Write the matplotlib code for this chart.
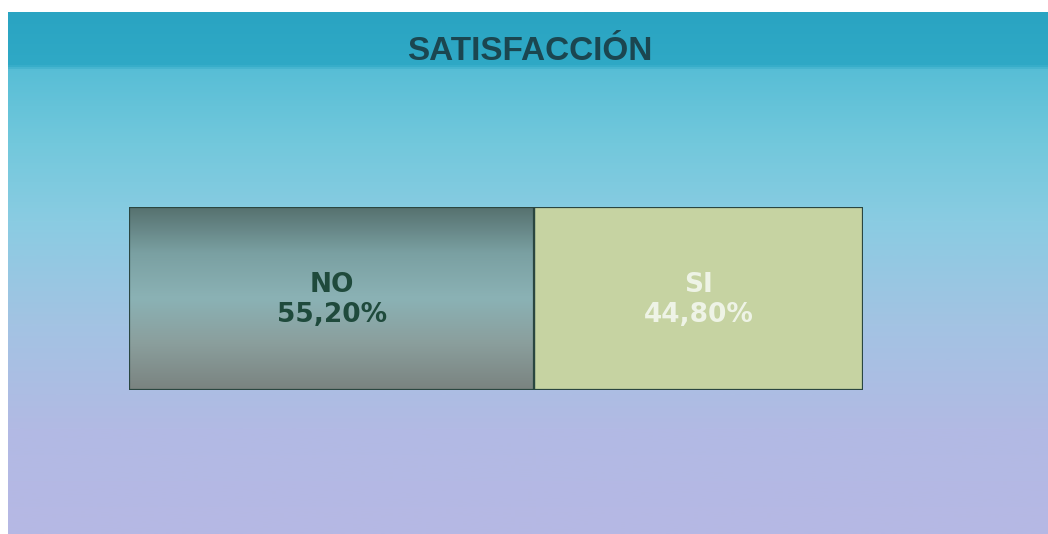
import numpy as np
import matplotlib
matplotlib.use("Agg")
import matplotlib.pyplot as plt
from matplotlib.colors import LinearSegmentedColormap

# ---- data ----
categories = ["NO", "SI"]
values = [55.20, 44.80]
pct_labels = ["55,20%", "44,80%"]
title = "SATISFACCIÓN"

W, H = 1048, 534
fig = plt.figure(figsize=(W / 100, H / 100), dpi=100, facecolor="white")

# background panel
bg = fig.add_axes([8 / W, 0, 1 - 8 / W, (H - 12) / H])
bg.set_axis_off()
bg_stops = [
    (0.00, "#2aa4c2"),
    (0.10, "#2fa9c6"),
    (0.11, "#58bed6"),
    (0.25, "#72c8dc"),
    (0.40, "#8acce2"),
    (0.60, "#a3c3e3"),
    (0.80, "#b2bae4"),
    (1.00, "#b6b8e4"),
]
bg_cmap = LinearSegmentedColormap.from_list("bg", bg_stops)
grad = np.linspace(0, 1, 512).reshape(-1, 1)
bg.imshow(grad, cmap=bg_cmap, aspect="auto", extent=[0, 1, 0, 1], origin="upper")
bg.set_xlim(0, 1)
bg.set_ylim(0, 1)

fig.text(530 / W, 1 - 60 / H, title, ha="center", va="baseline",
         fontsize=24, fontweight="bold", color="#1b4650",
         family=["Liberation Sans", "DejaVu Sans"])

# bar axes
x0, x1, y0, y1 = 129, 863, 207, 390
ax = fig.add_axes([x0 / W, 1 - y1 / H, (x1 - x0) / W, (y1 - y0) / H])
ax.set_axis_off()
ax.set_xlim(0, sum(values))
ax.set_ylim(-0.5, 0.5)

colors = ["#7f9c9a", "#c6d3a2"]
text_colors = ["#1f4a3c", "#eef3e6"]
edge = "#2a4640"
left = 0
bars = []
for cat, v, c in zip(categories, values, colors):
    b = ax.barh(0, v, left=left, height=1.0, color=c, edgecolor=edge,
                linewidth=1.6, zorder=2)
    bars.append(b[0])
    left += v

# gradient fill for NO bar
no_stops = [
    (0.00, "#56716f"),
    (0.25, "#7aa0a2"),
    (0.50, "#8bb2b5"),
    (0.75, "#8a9e9c"),
    (1.00, "#7a8380"),
]
no_cmap = LinearSegmentedColormap.from_list("no", no_stops)
r = bars[0]
im = ax.imshow(grad, cmap=no_cmap, aspect="auto",
               extent=[r.get_x(), r.get_x() + r.get_width(), -0.5, 0.5],
               origin="upper", zorder=2.5)
im.set_clip_path(r)
ax.barh(0, values[0], left=0, height=1.0, color="none", edgecolor=edge,
        linewidth=1.6, zorder=3)

# labels: category line and percentage line (baselines in axes fraction)
cat_base = (y1 - 292) / (y1 - y0)
pct_base = (y1 - 322) / (y1 - y0)
left = 0
for cat, v, pl, tc in zip(categories, values, pct_labels, text_colors):
    xc = left + v / 2
    ax.text(xc, cat_base, cat, transform=ax.get_xaxis_transform(),
            ha="center", va="baseline", fontsize=19, fontweight="bold",
            color=tc, family=["DejaVu Sans"], zorder=4)
    ax.text(xc, pct_base, pl, transform=ax.get_xaxis_transform(),
            ha="center", va="baseline", fontsize=19, fontweight="bold",
            color=tc, family=["DejaVu Sans"], zorder=4)
    left += v

fig.savefig("out.png", dpi=100, facecolor="white")
